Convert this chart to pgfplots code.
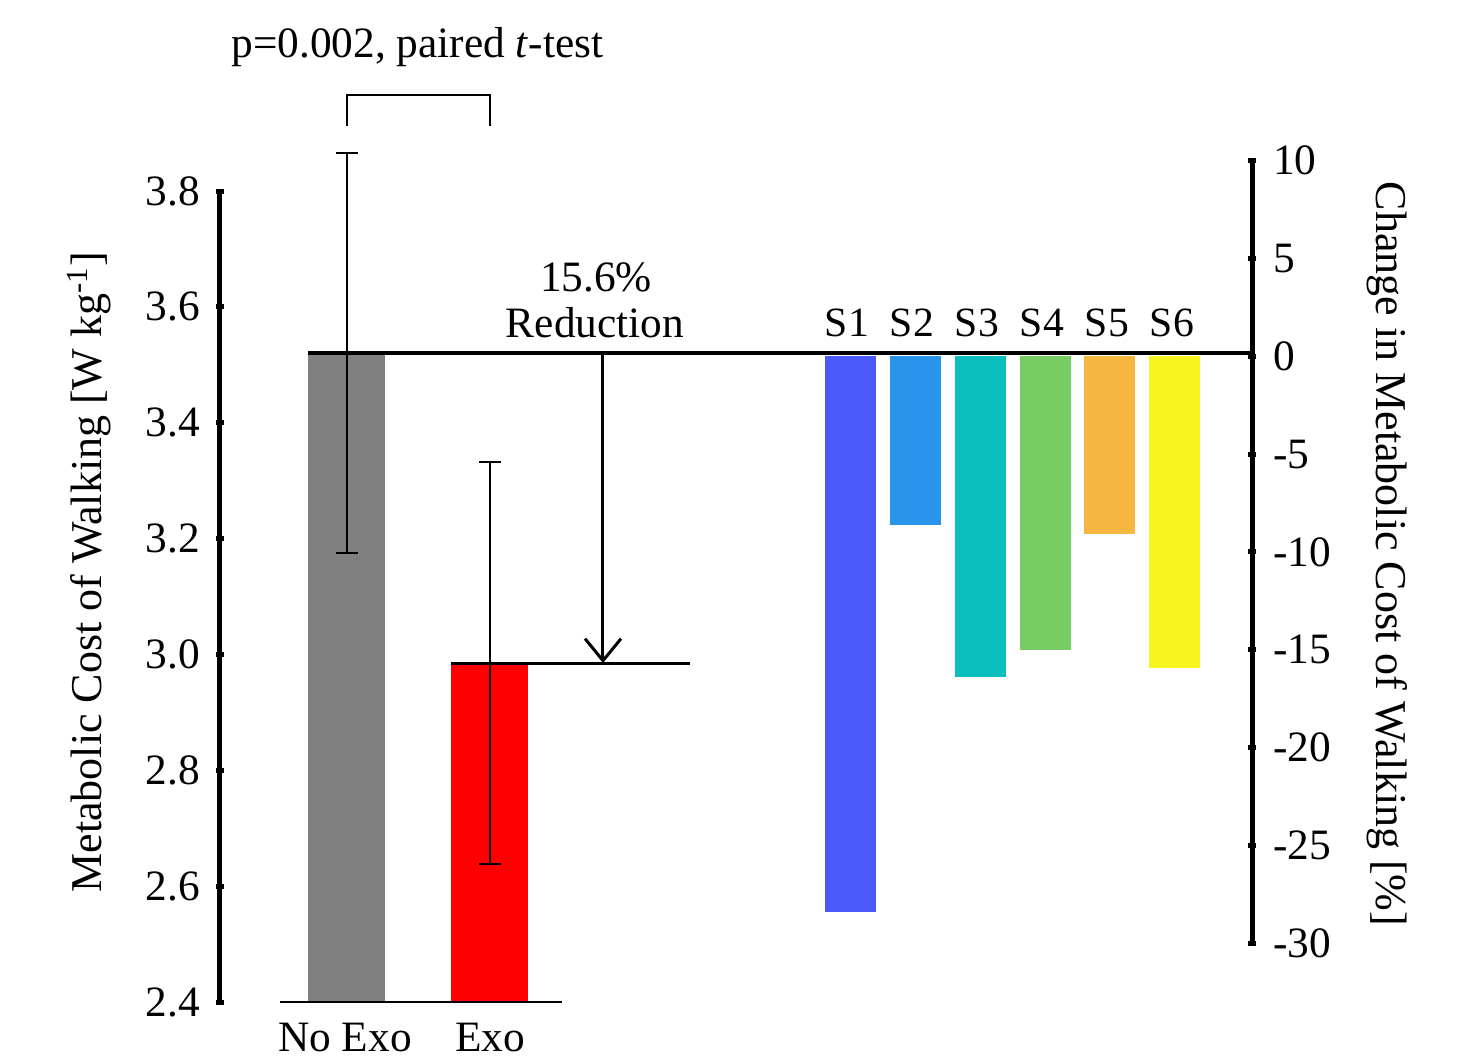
\documentclass[border=0pt]{standalone}
\usepackage{fontspec}
\setmainfont{Liberation Serif}
\usepackage{pgfplots}
\pgfplotsset{compat=1.18}
\usetikzlibrary{arrows.meta}
\definecolor{cS1}{HTML}{4A59F8}
\definecolor{cS2}{HTML}{2A94EA}
\definecolor{cS3}{HTML}{0BBFBE}
\definecolor{cS4}{HTML}{77CC62}
\definecolor{cS5}{HTML}{F5B73F}
\definecolor{cS6}{HTML}{F7F520}
\definecolor{cNo}{HTML}{808080}
\tikzset{lab/.style={anchor=base, font=\fontsize{13}{15}\selectfont}}
\begin{document}
\begin{tikzpicture}
\pgfplotsset{
 common/.style={
  scale only axis, width=309.6pt, height=255.6pt,
  at={(0,0)}, anchor=south west,
  xmin=220, xmax=1252,
  axis x line=none,
  clip mode=individual,
  tick align=inside,
  major tick length=2.6pt,
  major tick style={black, line width=1.5pt},
  y axis line style={draw=none},
  /pgf/number format/assume math mode=true,
  ticklabel style={font=\fontsize{13}{15}\selectfont},
 },
}
\begin{axis}[common, ymin=2.4, ymax=3.8707, axis y line=left,
  ytick={2.4,2.6,2.8,3.0,3.2,3.4,3.6,3.8},
  /pgf/number format/fixed, /pgf/number format/fixed zerofill, /pgf/number format/precision=1,
  yticklabel style={xshift=-1.2pt}]
\addplot[ybar, bar shift=0pt, bar width=77, fill=cNo, draw=none] coordinates {(346.5,3.52)};
\addplot[ybar, bar shift=0pt, bar width=77, fill=red, draw=none] coordinates {(489.5,2.985)};
\addplot[draw=none, no markers, error bars/.cd, y dir=both, y explicit,
  error bar style={draw=black, line width=0.6pt},
  error mark options={draw=black, line width=0.6pt, mark size=3.3pt, rotate=90}]
  coordinates {(347,3.52) +- (0,0.345) (490,2.985) +- (0,0.347)};
% decorations
\draw[line width=0.6pt] (axis cs:280,2.4) -- (axis cs:562,2.4);
\draw[line width=1.5pt] (axis cs:220,2.4) -- (axis cs:220,3.8);
\draw[line width=1.2pt] (axis cs:308,3.5195) -- (axis cs:1252,3.5195);
\draw[line width=0.9pt] (axis cs:451,2.9852) -- (axis cs:690,2.9852);
\draw[line width=0.9pt, -{Straight Barb[length=6.6pt,width=10.8pt]}] (axis cs:603,3.5195) -- (axis cs:603,2.9852);
\draw[line width=0.8pt] (axis cs:347,3.9122) -- (axis cs:347,3.9657) -- (axis cs:490,3.9657) -- (axis cs:490,3.9122);
\node[anchor=base, font=\fontsize{13}{15}\selectfont] at (axis cs:417.5,4.0313) {p=0.002, paired \textit{t}-test};
\node[lab] at (axis cs:596,3.6261) {15.6\%};
\node[lab] at (axis cs:595,3.5474) {Reduction};
\node[lab] at (axis cs:345,2.3154) {No Exo};
\node[lab] at (axis cs:490,2.3154) {Exo};
\node[rotate=90, font=\fontsize{13.2}{15}\selectfont] at (axis cs:89,3.1423) {Metabolic Cost of Walking [W kg\textsuperscript{-1}]};
\node[rotate=-90, font=\fontsize{13.2}{15}\selectfont] at (axis cs:1387,3.1733) {Change in Metabolic Cost of Walking [\%]};
\node[lab, font=\fontsize{12.5}{15}\selectfont] at (axis cs:847,3.5485) {S1};
\node[lab, font=\fontsize{12.5}{15}\selectfont] at (axis cs:912,3.5485) {S2};
\node[lab, font=\fontsize{12.5}{15}\selectfont] at (axis cs:977,3.5485) {S3};
\node[lab, font=\fontsize{12.5}{15}\selectfont] at (axis cs:1042,3.5485) {S4};
\node[lab, font=\fontsize{12.5}{15}\selectfont] at (axis cs:1107,3.5485) {S5};
\node[lab, font=\fontsize{12.5}{15}\selectfont] at (axis cs:1172,3.5485) {S6};
\coordinate (BL) at (axis cs:0,2.2982);
\coordinate (TR) at (axis cs:1466,4.1297);
\end{axis}
\begin{axis}[common, ymin=-33.01, ymax=10.547, axis y line=right,
  ytick={-30,-25,-20,-15,-10,-5,0,5,10},
  yticklabels={-30,-25,-20,-15,-10,-5,0,5,10},
  yticklabel style={xshift=1.5pt}]
\addplot[ybar, bar shift=0pt, bar width=51, fill=cS1, draw=none] coordinates {(850.5,-28.41)};
\addplot[ybar, bar shift=0pt, bar width=51, fill=cS2, draw=none] coordinates {(915,-8.63)};
\addplot[ybar, bar shift=0pt, bar width=51, fill=cS3, draw=none] coordinates {(980,-16.40)};
\addplot[ybar, bar shift=0pt, bar width=51, fill=cS4, draw=none] coordinates {(1045,-15.02)};
\addplot[ybar, bar shift=0pt, bar width=51, fill=cS5, draw=none] coordinates {(1109.5,-9.08)};
\addplot[ybar, bar shift=0pt, bar width=51, fill=cS6, draw=none] coordinates {(1174,-15.94)};
\draw[line width=1.5pt] (axis cs:1252,-30) -- (axis cs:1252,10);
\end{axis}
\pgfresetboundingbox
\useasboundingbox (BL) rectangle (TR);
\end{tikzpicture}
\end{document}
